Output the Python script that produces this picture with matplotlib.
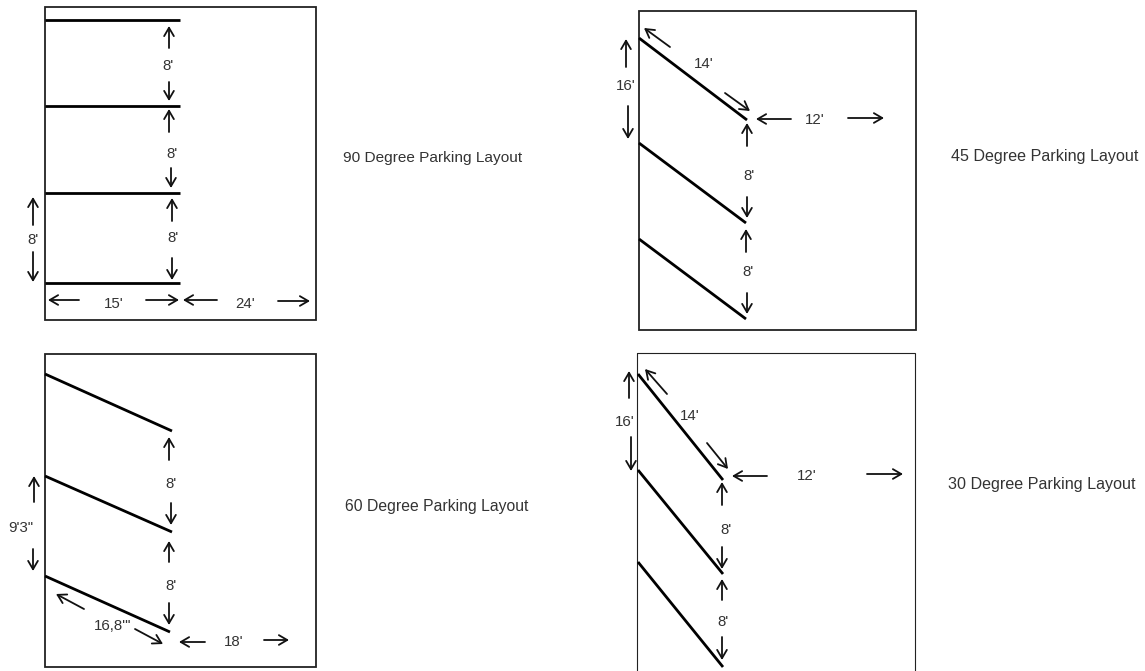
import matplotlib
matplotlib.use("Agg")
import matplotlib.pyplot as plt
from matplotlib.patches import Rectangle

plt.rcParams['font.family'] = ['Liberation Sans', 'DejaVu Sans']

# ===============================
# Parking boxes (left, top, right, bottom)
# ===============================
box_90 = (45, 7, 316, 320)
box_60 = (45, 354, 316, 667)
box_45 = (639, 11, 916, 330)
box_30 = (637, 353, 915, 690)  # runs off the bottom of the picture

# ===============================
# Stall lines (x0, y0, x1, y1)
# ===============================
stalls_90 = [(45, 20, 180, 20), (45, 106, 180, 106), (45, 193, 180, 193), (45, 283, 180, 283)]
stalls_60 = [(45, 374, 172, 431), (45, 476, 172, 532), (45, 576, 170, 632)]
stalls_45 = [(639, 38, 747, 120), (639, 143, 746, 223), (639, 239, 746, 319)]
stalls_30 = [(638, 374, 723, 480), (638, 470, 723, 574), (638, 562, 723, 667)]

# ===============================
# Dimension arrows (tail x, tail y, head x, head y)
# ===============================
arrows_90 = [
    (169, 48, 169, 26), (169, 82, 169, 101),
    (169, 132, 169, 109), (171, 168, 171, 188),
    (172, 221, 172, 198), (172, 258, 172, 280),
    (33, 225, 33, 197), (33, 252, 33, 282),
    (79, 300, 48, 300), (146, 300, 179, 300),
    (217, 300, 183, 300), (278, 301, 310, 301),
]
arrows_60 = [
    (169, 460, 169, 437), (171, 503, 171, 525),
    (169, 562, 169, 541), (169, 603, 169, 625),
    (34, 502, 34, 476), (33, 549, 33, 571),
    (84, 609, 56, 594), (135, 629, 163, 644),
    (205, 642, 179, 642), (264, 640, 289, 640),
]
arrows_45 = [
    (670, 47, 644, 28), (725, 93, 750, 111),
    (626, 67, 626, 39), (628, 106, 628, 139),
    (791, 119, 756, 119), (848, 118, 884, 118),
    (747, 146, 747, 123), (747, 197, 747, 218),
    (746, 252, 746, 229), (747, 293, 747, 314),
]
arrows_30 = [
    (667, 394, 645, 369), (707, 443, 728, 469),
    (629, 398, 629, 371), (631, 437, 631, 471),
    (767, 476, 732, 476), (867, 474, 903, 474),
    (722, 505, 722, 482), (722, 547, 722, 569),
    (722, 600, 722, 579), (722, 637, 722, 660),
]

# ===============================
# Dimension labels (x, y, text)
# ===============================
labels_90 = [(168, 65, "8'"), (172, 152, "8'"), (173, 236, "8'"), (33, 239, "8'"),
             (114, 302, "15'"), (245, 303, "24'")]
labels_60 = [(171, 482, "8'"), (171, 584, "8'"), (21, 526, "9'3\""),
             (113, 625, "16,8'\""), (234, 640, "18'")]
labels_45 = [(704, 63, "14'"), (626, 85, "16'"), (815, 118, "12'"),
             (749, 175, "8'"), (748, 271, "8'")]
labels_30 = [(690, 415, "14'"), (625, 420, "16'"), (807, 475, "12'"),
             (726, 528, "8'"), (723, 620, "8'")]

titles = ["90 Degree Parking Layout", "60 Degree Parking Layout",
          "45 Degree Parking Layout", "30 Degree Parking Layout"]
title_x = [343, 345, 951, 948]
title_y = [157, 506, 155, 484]
title_size = [11.1, 11.3, 11.6, 11.6]

# ===============================
# Draw
# ===============================
fig = plt.figure(figsize=(11.45, 6.71), dpi=100)
ax = fig.add_axes([0, 0, 1, 1])
ax.set_xlim(0, 1145)
ax.set_ylim(671, 0)
ax.axis("off")

panels = [
    (box_90, stalls_90, arrows_90, labels_90, 1.3),
    (box_60, stalls_60, arrows_60, labels_60, 1.3),
    (box_45, stalls_45, arrows_45, labels_45, 1.3),
    (box_30, stalls_30, arrows_30, labels_30, 0.8),
]

for box, stalls, arrows, labels, box_lw in panels:
    ax.add_patch(Rectangle((box[0], box[1]), box[2] - box[0], box[3] - box[1],
                           fill=False, edgecolor="#222222", linewidth=box_lw))
    for x0, y0, x1, y1 in stalls:
        ax.plot([x0, x1], [y0, y1], color="black", linewidth=2.0, solid_capstyle="butt")
    for x0, y0, x1, y1 in arrows:
        ax.annotate("", xy=(x1, y1), xytext=(x0, y0),
                    arrowprops=dict(arrowstyle="->,head_length=0.6,head_width=0.35",
                                    color="#111111", linewidth=1.3,
                                    shrinkA=0, shrinkB=0))
    for x, y, s in labels:
        ax.text(x, y + 1.5, s, fontsize=10.8, color="#333333", ha="center", va="center")

for s, x, y, size in zip(titles, title_x, title_y, title_size):
    ax.text(x, y + 1, s, fontsize=size, color="#333333", ha="left", va="center")

fig.savefig("out.png", dpi=100)
